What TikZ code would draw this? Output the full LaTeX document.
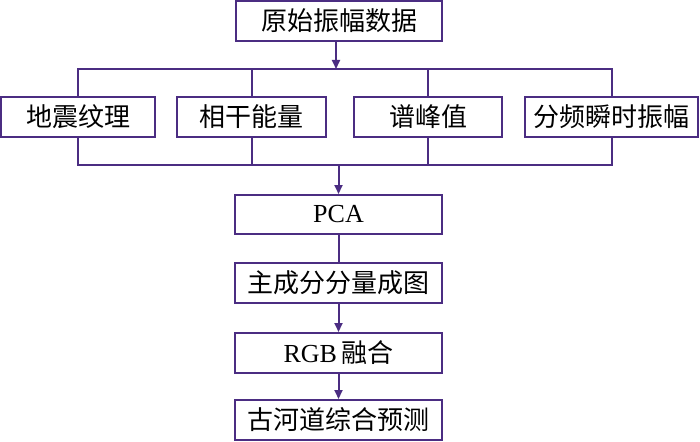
\documentclass[tikz,border=0pt]{standalone}
\usepackage{fontspec}
\setmainfont{Liberation Serif}
\newfontfamily\cjk{Noto Sans CJK SC}
\usetikzlibrary{arrows.meta}
\definecolor{lc}{RGB}{75,45,130}
\tikzset{
  box/.style={draw=lc, line width=2pt, fill=white, minimum height=40pt, inner sep=0pt, font=\fontsize{26}{28}\selectfont\cjk},
  conn/.style={draw=lc, line width=2pt},
  arr/.style={conn, -{Triangle[length=9pt,width=8pt]}}
}
\begin{document}
\begin{tikzpicture}[x=1pt,y=-1pt]
\useasboundingbox (0,0) rectangle (700,441);
\coordinate (bt) at (0,69);
\coordinate (bb) at (0,165);
\node[box, minimum width=206pt] (top) at (339,21) {原始振幅数据};
\node[box, minimum width=154pt] (b1) at (78,117) {地震纹理};
\node[box, minimum width=149pt] (b2) at (251.5,117) {相干能量};
\node[box, minimum width=148pt] (b3) at (428,117) {谱峰值};
\node[box, minimum width=173pt] (b4) at (611.5,117) {分频瞬时振幅};
\node[box, minimum width=207pt, minimum height=39pt] (pca) at (338.5,214.5) {\rmfamily PCA};
\node[box, minimum width=207pt] (pc) at (338.5,283) {主成分分量成图};
\node[box, minimum width=207pt] (rgb) at (338.5,353) {{\rmfamily RGB}\,融合};
\node[box, minimum width=207pt] (gh) at (338.5,420) {古河道综合预测};
% top bus
\draw[arr] (top.south -| 336,0) -- (336,69);
\draw[conn] (b1.north) |- (b4.north |- bt) -- (b4.north);
\draw[conn] (b2.north) -- (b2.north |- bt);
\draw[conn] (b3.north) -- (b3.north |- bt);
% bottom bus
\draw[conn] (b1.south) |- (b4.south |- bb) -- (b4.south);
\draw[conn] (b2.south) -- (b2.south |- bb);
\draw[conn] (b3.south) -- (b3.south |- bb);
\draw[arr] (pca.north |- bb) -- (pca.north);
% chain
\draw[conn] (pca.south) -- (pc.north);
\draw[arr] (pc.south) -- (rgb.north);
\draw[arr] (rgb.south) -- (gh.north);
\end{tikzpicture}
\end{document}
